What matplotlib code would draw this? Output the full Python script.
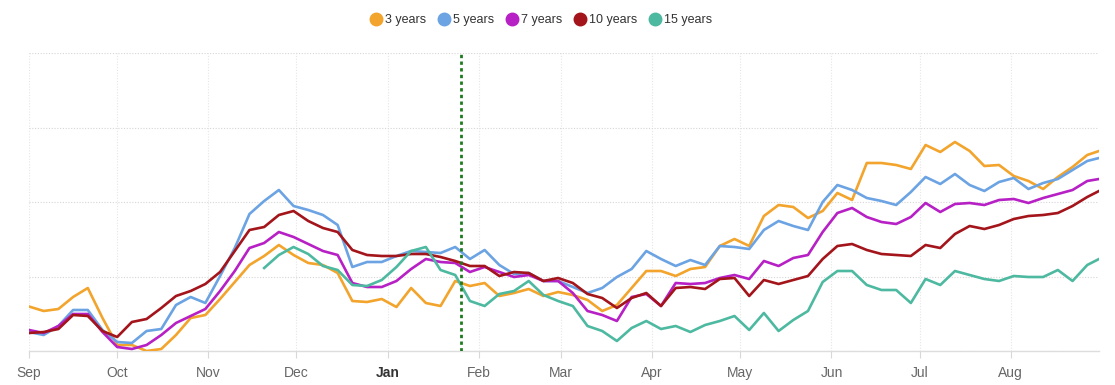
import matplotlib

matplotlib.use("Agg")
import matplotlib.pyplot as plt
from matplotlib.lines import Line2D
import numpy as np
import pandas as pd

# sampled every 5 days, Sep 1 -> Aug 31
DATES = list(pd.date_range("2022-09-01", periods=73, freq="5D")) + [pd.Timestamp("2023-08-31")]
MARKER_DATE = pd.Timestamp("2023-01-26")
MONTHS = pd.date_range("2022-09-01", periods=12, freq="MS")
MONTH_LABELS = ["Sep", "Oct", "Nov", "Dec", "Jan", "Feb", "Mar", "Apr", "May", "Jun", "Jul", "Aug"]

NAN = np.nan
Y3 = [44.5, 40, 42, 54, 63, 33, 6, 6, 0, 2,
      16, 33, 36, 52, 69, 86, 95, 106, 96, 88,
      86, 78, 50, 49, 52, 44, 63, 48, 45, 70,
      65, 68, 55, 58, 62, 55, 59, 56, 51, 40,
      46, 63, 80, 80, 75, 82, 84, 105, 112, 105,
      135, 146, 144, 133, 140, 158, 151, 188, 188, 186,
      182, 206, 199, 209, 200, 185, 186, 175, 170, 162,
      174, 184, 196, 200]
Y5 = [19, 16, 25, 41, 41, 21, 9, 8, 20, 22,
      46, 54, 48, 75, 103, 137, 150, 161, 145, 141,
      136, 126, 84, 89, 89, 95, 100, 99, 98, 104,
      92, 101, 86, 77, 78, 70, 70, 64, 58, 63,
      74, 82, 100, 92, 85, 91, 86, 105, 104, 102,
      121, 130, 125, 121, 149, 166, 161, 153, 150, 146,
      159, 174, 167, 177, 166, 160, 169, 173, 162, 168,
      172, 181, 190, 193]
Y7 = [21, 18, 25, 37, 37, 19, 4, 2, 6, 16,
      28, 35, 42, 60, 80, 103, 108, 119, 114, 107,
      100, 96, 68, 64, 64, 70, 82, 92, 89, 88,
      79, 84, 79, 74, 76, 70, 70, 58, 40, 36,
      30, 54, 57, 45, 68, 67, 68, 73, 76, 72,
      90, 85, 93, 96, 119, 138, 143, 134, 129, 127,
      134, 148, 139, 147, 148, 146, 151, 152, 148, 153,
      157, 161, 170, 172]
Y10 = [18, 19, 22, 36, 35, 20, 14, 29, 32, 43,
       55, 60, 67, 79, 100, 121, 124, 136, 140, 130,
       123, 119, 101, 96, 95, 95, 97, 97, 94, 90,
       85, 85, 75, 79, 78, 70, 73, 68, 57, 53,
       43, 53, 58, 45, 63, 64, 62, 72, 73, 55,
       71, 67, 71, 75, 92, 105, 107, 101, 97, 96,
       95, 106, 103, 117, 125, 122, 126, 132, 135, 136,
       138, 145, 154, 160]
Y15 = [NAN] * 16 + [83, 96, 104, 97,
       85, 81, 66, 65, 71, 84, 100, 104, 81, 76,
       50, 45, 57, 60, 70, 56, 50, 45, 25, 20,
       10, 23, 30, 22, 25, 19, 26, 30, 35, 21,
       38, 20, 31, 40, 69, 80, 80, 66, 61, 61,
       48, 72, 66, 80, 76, 72, 70, 75, 74, 74,
       81, 70, 86, 92]

SERIES = [
    ("3 years", Y3, "#F2A42C"),
    ("5 years", Y5, "#6BA3E3"),
    ("7 years", Y7, "#B620C4"),
    ("10 years", Y10, "#A3141B"),
    ("15 years", Y15, "#4DB9A0"),
]

plt.rcParams["font.family"] = ["Liberation Sans", "DejaVu Sans"]

fig = plt.figure(figsize=(11.15, 3.85), dpi=100)
ax = fig.add_axes([29 / 1115, 1 - 351 / 385, 1070 / 1115, 298 / 385])

for name, vals, color in SERIES:
    ax.plot(DATES, np.array(vals, dtype=float), color=color, linewidth=1.9,
            solid_joinstyle="round", label=name, zorder=3)

ax.axvline(MARKER_DATE, color="#1E7B1E", linewidth=2.0, linestyle=(0, (1.2, 1.2)), zorder=4)

ax.set_xlim(pd.Timestamp("2022-09-01"), pd.Timestamp("2023-08-31"))
ax.set_ylim(0, 298)
ax.set_yticks(np.linspace(0, 298, 5))
ax.set_xticks(MONTHS)
ax.set_xticklabels(MONTH_LABELS)
ax.tick_params(axis="y", left=False, labelleft=False)
ax.tick_params(axis="x", length=5, width=0.8, color="#d8d8d8", pad=6,
               labelsize=10, labelcolor="#666666")
jan = ax.get_xticklabels()[4]
jan.set_fontweight("bold")
jan.set_color("#333333")

ax.grid(True, axis="y", color="#d6d6d6", linewidth=0.8, linestyle=(0, (1, 1.5)), zorder=0)
ax.grid(True, axis="x", color="#e6e6e6", linewidth=0.8, linestyle=(0, (1, 1.5)), zorder=0)
for side in ("top", "right", "left"):
    ax.spines[side].set_visible(False)
ax.spines["bottom"].set_color("#dddddd")
ax.spines["bottom"].set_linewidth(1.0)

handles = [Line2D([], [], marker="o", linestyle="none", markersize=9,
                  markerfacecolor=c, markeredgecolor=c) for _, _, c in SERIES]
fig.legend(handles, [n for n, _, _ in SERIES], loc="center", bbox_to_anchor=(0.485, 0.947),
           ncol=5, frameon=False, fontsize=9, handletextpad=0.25, columnspacing=0.9,
           labelcolor="#333333", handlelength=1.0)

fig.savefig("out.png", dpi=100)
